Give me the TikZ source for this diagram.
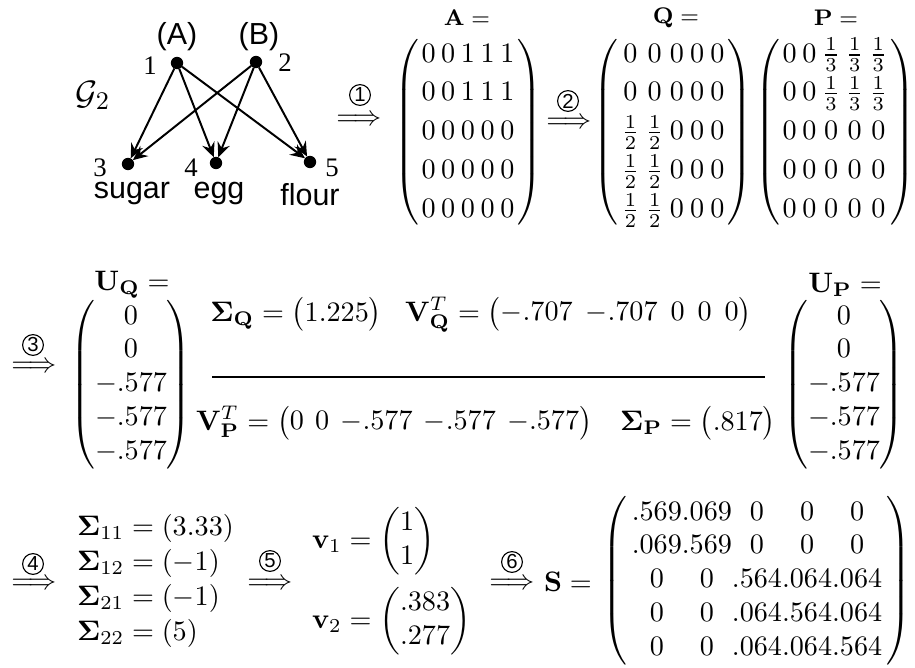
\documentclass[tikz,border=0pt]{standalone}
\usepackage{amsmath}
\usepackage[no-math]{fontspec}
\newfontfamily\sansf{Liberation Sans}
\newfontfamily\serff{Liberation Serif}
\usetikzlibrary{arrows.meta}
\tikzset{
  every node/.style={inner sep=0pt, outer sep=0pt},
  circnum/.style={circle, draw, line width=0.4pt, minimum size=7.4pt, font=\sansf\fontsize{7.2}{7.2}\selectfont},
  vdot/.style={circle, fill=black, minimum size=4.4pt},
  link/.style={line width=0.7pt, -{Stealth[length=5.2pt,width=4.6pt,inset=1.8pt]}},
  sanslab/.style={font=\sansf\fontsize{10.8}{12}\selectfont},
  numlab/.style={font=\serff\fontsize{9.5}{11}\selectfont},
  smlab/.style={font=\footnotesize},
  rulestyle/.style={line width=0.45pt}
}
\begin{document}
\begin{tikzpicture}[x=0.355pt,y=-0.355pt]
\useasboundingbox (0,0) rectangle (915,668);
% ---------- graph ----------
\node[font=\fontsize{13}{15}\selectfont] (G) at (93,95) {$\mathcal{G}_2$};
\node[vdot] (n1) at (177,63) {};
\node[vdot] (n2) at (256,62) {};
\node[vdot] (n3) at (128,164) {};
\node[vdot] (n4) at (216,163) {};
\node[vdot] (n5) at (310,162) {};
\node[sanslab] (tA) at (177,37) {(A)};
\node[sanslab] (tB) at (259,37) {(B)};
\node[numlab] (l1) at (150,66) {1};
\node[numlab] (l2) at (285,63) {2};
\node[numlab] (l3) at (100,168) {3};
\node[numlab] (l4) at (191,168) {4};
\node[numlab] (l5) at (332,168) {5};
\node[sanslab] (s3) at (132,193) {sugar};
\node[sanslab] (s4) at (219,193) {egg};
\node[sanslab] (s5) at (310,195) {flour};
\draw[link] (n1) -- (n3);
\draw[link] (n1) -- (n4);
\draw[link] (n1) -- (n5);
\draw[link] (n2) -- (n3);
\draw[link] (n2) -- (n4);
\draw[link] (n2) -- (n5);
% ---------- row 1 ----------
\node[circnum] (c1) at (360,95) {1};
\node (ar1) at (359,120) {$\Longrightarrow$};
\node[smlab] (Alab) at (467,18) {$\mathbf{A} =$};
\node (Amat) at (468,132) {\setlength\arraycolsep{1pt}\renewcommand\arraystretch{1.15}%
$\left(\begin{array}{ccccc}0&0&1&1&1\\0&0&1&1&1\\0&0&0&0&0\\0&0&0&0&0\\0&0&0&0&0\end{array}\right)$};
\node[circnum] (c2) at (568,101) {2};
\node (ar2) at (569,123) {$\Longrightarrow$};
\node[smlab] (Qlab) at (676,18) {$\mathbf{Q} =$};
\node (Qmat) at (673,132) {\setlength\arraycolsep{1.1pt}\renewcommand\arraystretch{1.15}%
$\left(\begin{array}{ccccc}0&0&0&0&0\\0&0&0&0&0\\\frac12&\frac12&0&0&0\\\frac12&\frac12&0&0&0\\\frac12&\frac12&0&0&0\end{array}\right)$};
\node[smlab] (Plab) at (836,18) {$\mathbf{P} =$};
\node (Pmat) at (835,132) {\setlength\arraycolsep{1pt}\renewcommand\arraystretch{1.15}%
$\left(\begin{array}{ccccc}0&0&\frac13&\frac13&\frac13\\0&0&\frac13&\frac13&\frac13\\0&0&0&0&0\\0&0&0&0&0\\0&0&0&0&0\end{array}\right)$};
% ---------- row 2 ----------
\node[circnum] (c3) at (33,345) {3};
\node (ar3) at (34,367) {$\Longrightarrow$};
\node (UQlab) at (132,285) {$\mathbf{U}_{\mathbf{Q}} =$};
\node (UQ) at (131,385) {$\begin{pmatrix}0\\0\\-.577\\-.577\\-.577\end{pmatrix}$};
\node (SQ) at (481,315) {\setlength\arraycolsep{2.3pt}%
$\boldsymbol{\Sigma}_{\mathbf{Q}} = \bigl(1.225\bigr)\ \ \,\mathbf{V}_{\mathbf{Q}}^{T} = \begin{pmatrix}-.707&-.707&0&0&0\end{pmatrix}$};
\coordinate (rl) at (212,377);
\coordinate (rr) at (765,377);
\draw[rulestyle] (rl) -- (rr);
\node (VP) at (486,423) {\setlength\arraycolsep{2pt}%
$\mathbf{V}_{\mathbf{P}}^{T} = \begin{pmatrix}0&0&-.577&-.577&-.577\end{pmatrix}\ \ \,\boldsymbol{\Sigma}_{\mathbf{P}} = \bigl(.817\bigr)$};
\node (UPlab) at (845,285) {$\mathbf{U}_{\mathbf{P}} =$};
\node (UP) at (844,385) {$\begin{pmatrix}0\\0\\-.577\\-.577\\-.577\end{pmatrix}$};
% ---------- row 3 ----------
\node[circnum] (c4) at (33,564) {4};
\node (ar4) at (34,584) {$\Longrightarrow$};
\node[anchor=west] (Sig) at (77,581) {\renewcommand\arraystretch{1.03}%
$\begin{array}{@{}l@{}}\boldsymbol{\Sigma}_{11} = (3.33)\\ \boldsymbol{\Sigma}_{12} = (-1)\\ \boldsymbol{\Sigma}_{21} = (-1)\\ \boldsymbol{\Sigma}_{22} = (5)\end{array}$};
\node[circnum] (c5) at (270,561) {5};
\node (ar5) at (270,584) {$\Longrightarrow$};
\node[anchor=west] (v1) at (312,541) {$\mathbf{v}_1 = \begin{pmatrix}1\\1\end{pmatrix}$};
\node[anchor=west] (v2) at (312,621) {$\mathbf{v}_2 = \begin{pmatrix}.383\\.277\end{pmatrix}$};
\node[circnum] (c6) at (512,562) {6};
\node (ar6) at (512,584) {$\Longrightarrow$};
\node (Slab) at (568,582) {$\mathbf{S} =$};
\node (Smat) at (757,581) {\setlength\arraycolsep{0pt}%
$\left(\,\begin{matrix}.569&.069&0&0&0\\.069&.569&0&0&0\\0&0&.564&.064&.064\\0&0&.064&.564&.064\\0&0&.064&.064&.564\end{matrix}\,\right)$};
\end{tikzpicture}
\end{document}
